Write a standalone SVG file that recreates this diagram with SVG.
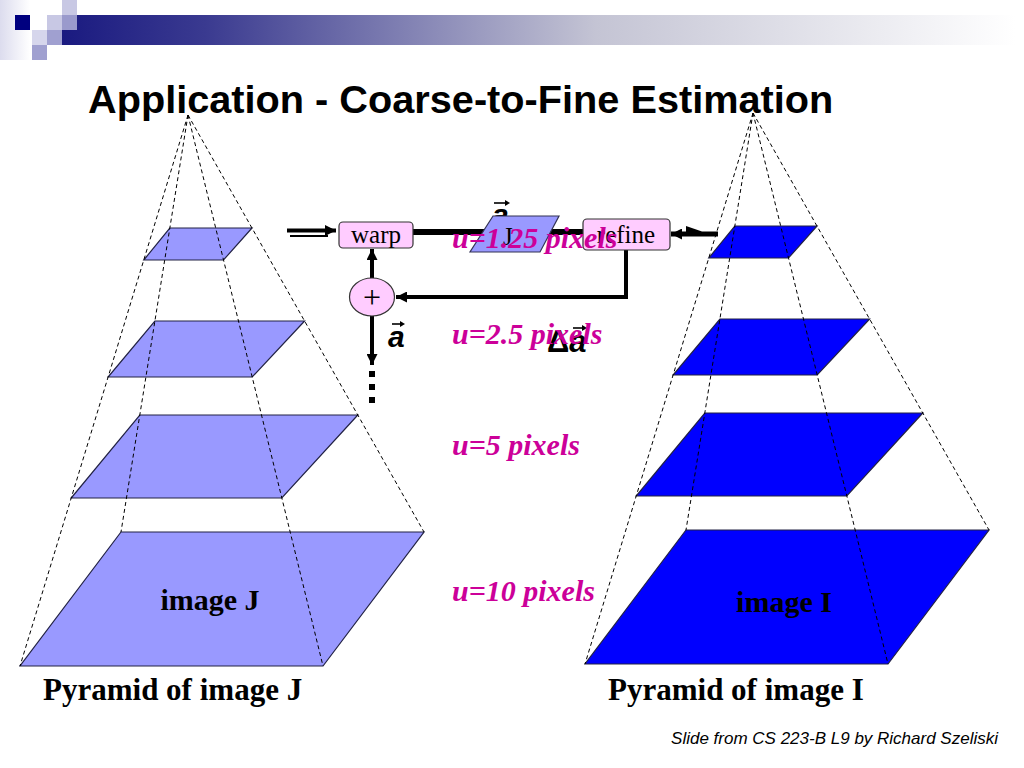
<svg xmlns="http://www.w3.org/2000/svg" width="1024" height="768" viewBox="0 0 1024 768">
<defs>
<linearGradient id="bar" gradientUnits="userSpaceOnUse" x1="62" y1="0" x2="1015" y2="0">
<stop offset="0" stop-color="#1A1A80"/>
<stop offset="0.15" stop-color="#3A3A90"/>
<stop offset="0.56" stop-color="#C4C4D4"/>
<stop offset="1" stop-color="#FFFFFF"/>
</linearGradient>
<linearGradient id="lft" x1="0" y1="0" x2="1" y2="0">
<stop offset="0" stop-color="#DCDCEE"/>
<stop offset="1" stop-color="#FFFFFF"/>
</linearGradient>
<marker id="ah" viewBox="0 0 12 12" markerWidth="12" markerHeight="11" refX="12" refY="6" orient="auto" markerUnits="userSpaceOnUse">
<path d="M0,0 L12,6 L0,12 z" fill="#000"/>
</marker>
<g id="pyr">
<polygon class="layer" points="169.8,228 252,228 223.5,260 143.8,260"/>
<polygon class="layer" points="154.9,321 304.6,321 252.2,377 108.1,377"/>
<polygon class="layer" points="139.8,415 357.8,415 281.8,498 71.2,498"/>
<polygon class="layer" points="121,532 424,532 323,666 20,666"/>
<g class="dash" fill="none">
<line x1="188" y1="115" x2="20" y2="666"/>
<line x1="188" y1="115" x2="121" y2="532"/>
<line x1="188" y1="115" x2="323" y2="666"/>
<line x1="188" y1="115" x2="424" y2="532"/>
</g>
</g>
</defs>
<style>
.layer{stroke:#222244;stroke-width:1.2}
.dash line{stroke:#000;stroke-width:1;stroke-dasharray:4 3;fill:none}
.tb{font-family:"Liberation Serif","Times New Roman",serif;font-weight:bold;fill:#000}
.mag{font-family:"Liberation Serif","Times New Roman",serif;font-weight:bold;font-style:italic;fill:#CC0099;font-size:30px}
.box{fill:#FFCCFF;stroke:#333;stroke-width:1.2}
.lbl{font-family:"Liberation Serif","Times New Roman",serif;fill:#000}
.vec{font-family:"Liberation Sans",Arial,sans-serif;font-weight:bold;font-style:italic;fill:#000}
.con{stroke:#000;fill:none}
</style>
<rect width="1024" height="768" fill="#FFFFFF"/>
<g id="logo">
<rect x="0" y="0" width="30" height="60" fill="url(#lft)"/>
<rect x="62" y="15" width="953" height="30" fill="url(#bar)"/>
<rect x="15" y="15" width="15" height="15" fill="#00007F"/>
<rect x="47" y="15" width="15" height="15" fill="#C8C8E4"/>
<rect x="62" y="0" width="15" height="15" fill="#C8C8E4"/>
<rect x="62" y="15" width="15" height="15" fill="#9A9ACC"/>
<rect x="32" y="30" width="15" height="15" fill="#D6D6EC"/>
<rect x="47" y="30" width="15" height="15" fill="#A0A0D0"/>
<rect x="32" y="45" width="15" height="15" fill="#A0A0D0"/>
</g>
<g id="title">
<text x="88" y="113" font-family="'Liberation Sans',Arial,sans-serif" font-weight="bold" font-size="39.7" fill="#000">Application - Coarse-to-Fine Estimation</text>
</g>
<g id="pyramid-J">
<use href="#pyr" fill="#9999FF"/>
<text class="tb" x="210" y="610" font-size="30" text-anchor="middle">image J</text>
<text class="tb" x="43" y="700" font-size="31">Pyramid of image J</text>
</g>
<g id="pyramid-I">
<use href="#pyr" fill="#0000FF" transform="translate(565,-2)"/>
<text class="tb" x="784" y="612" font-size="30" text-anchor="middle">image I</text>
<text class="tb" x="608" y="700" font-size="31">Pyramid of image I</text>
</g>
<g id="vec-a-top">
<text class="vec" x="492" y="225" font-size="30">a</text>
<path d="M494,203 H508" stroke="#000" stroke-width="1.6"/>
<path d="M505,200 L510,203 L505,206 z" fill="#000"/>
</g>
<g id="connectors">
<path class="con" d="M287,230.5 H336" stroke-width="4" marker-end="url(#ah)"/>
<path class="con" d="M290,236 H328" stroke-width="2"/>
<path class="con" d="M413,232 H583" stroke-width="6"/>
<path class="con" d="M718,234 H671" stroke-width="5" marker-end="url(#ah)"/>
<polygon points="686,226 702,231.5 686,236" fill="#000"/>
<path class="con" d="M626,250 V297 H396" stroke-width="4" marker-end="url(#ah)"/>
<path class="con" d="M372,278 V249" stroke-width="4" marker-end="url(#ah)"/>
<path class="con" d="M372,316 V365" stroke-width="4" marker-end="url(#ah)"/>
<rect x="369" y="371" width="6" height="6" fill="#000"/>
<rect x="369" y="384" width="6" height="6" fill="#000"/>
<rect x="369" y="397" width="6" height="6" fill="#000"/>
</g>
<g id="warp">
<rect class="box" x="339" y="222" width="74" height="26" rx="4"/>
<text class="lbl" x="376" y="243" font-size="25" text-anchor="middle">warp</text>
</g>
<g id="Jbox">
<polygon points="493,216 559,216 540,252 470,252" fill="#9999FF" stroke="#333355" stroke-width="1.2"/>
<text class="lbl" x="503" y="245" font-size="25">J</text>
</g>
<g id="refine">
<rect class="box" x="583" y="219" width="87" height="31" rx="4"/>
<text class="lbl" x="626" y="243" font-size="25" text-anchor="middle">refine</text>
</g>
<g id="plus">
<ellipse class="box" cx="372" cy="297" rx="22.5" ry="19"/>
<text class="lbl" x="372" y="308" font-size="32" text-anchor="middle">+</text>
</g>
<g id="vec-a">
<text class="vec" x="388" y="347" font-size="30">a</text>
<path d="M392,324 H403" stroke="#000" stroke-width="1.6"/>
<path d="M400,321 L405,324 L400,327 z" fill="#000"/>
</g>
<g id="delta-a">
<text class="vec" x="547" y="352" font-size="31"><tspan font-style="normal">Δ</tspan>a</text>
<path d="M573,328 H585" stroke="#000" stroke-width="1.6"/>
<path d="M582,325 L587,328 L582,331 z" fill="#000"/>
</g>
<g id="labels">
<text class="mag" x="452" y="248">u=1.25 pixels</text>
<text class="mag" x="452" y="344">u=2.5 pixels</text>
<text class="mag" x="452" y="455">u=5 pixels</text>
<text class="mag" x="452" y="601">u=10 pixels</text>
</g>
<g id="credit">
<text x="998" y="744" font-family="'Liberation Sans',Arial,sans-serif" font-style="italic" font-size="17" text-anchor="end" fill="#000">Slide from CS 223-B L9 by Richard Szeliski</text>
</g>
</svg>
